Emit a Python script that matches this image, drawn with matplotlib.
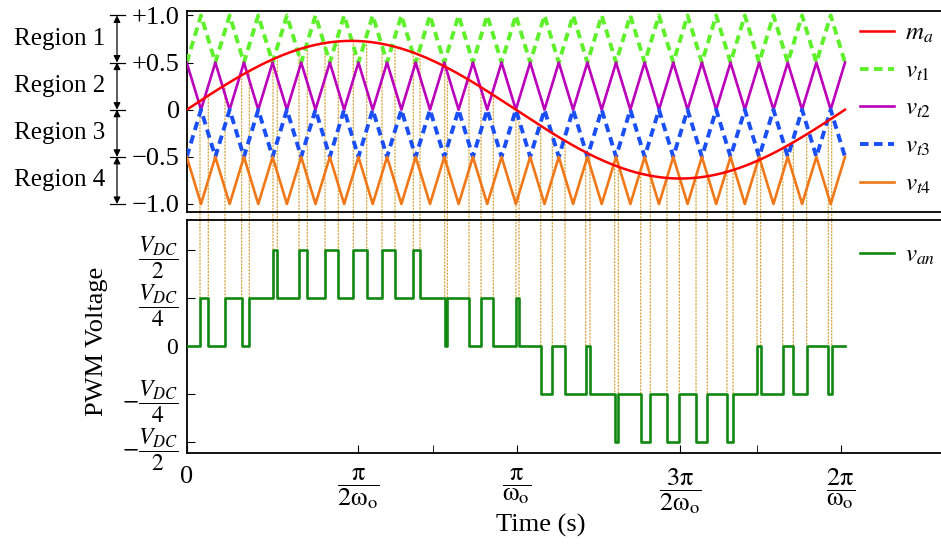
import numpy as np
import matplotlib
matplotlib.use('Agg')
import matplotlib.pyplot as plt
from matplotlib.patches import ConnectionPatch
from matplotlib.transforms import blended_transform_factory

plt.rcParams['font.family'] = ['Liberation Serif', 'DejaVu Serif']
plt.rcParams['mathtext.fontset'] = 'stix'

# values (time given as fraction of one fundamental period)
ma = 0.73                      # modulation amplitude
carrier_cycles = 23            # carrier periods per fundamental period
band_edges = [1.0, 0.5, 0.0, -0.5, -1.0]
band_ticklabels = ['+1.0', '+0.5', '0', '\u22120.5', '\u22121.0']
region_names = ['Region 1', 'Region 2', 'Region 3', 'Region 4']

# PWM output: switching instants and the level (in V_DC/4) after each switch
pwm_start_level = 0
pwm_switch_t = [0.0202, 0.0328, 0.0582, 0.0835, 0.0951,
                0.1311, 0.1376, 0.1706, 0.1832, 0.2101, 0.2303, 0.2531, 0.2734,
                0.2967, 0.3164, 0.3442, 0.3544,
                0.3919, 0.3959, 0.4288, 0.4471, 0.4657, 0.5002, 0.5048,
                0.5378, 0.5554, 0.5747, 0.6061, 0.6126,
                0.6502, 0.6556, 0.6897, 0.7042, 0.7296, 0.7483, 0.7737, 0.7908,
                0.8207, 0.8299,
                0.8663, 0.8719, 0.9054, 0.9215, 0.9418, 0.9746, 0.9798]
pwm_levels = [1, 0, 1, 0, 1,
              2, 1, 2, 1, 2, 1, 2, 1,
              2, 1, 2, 1,
              0, 1, 0, 1, 0, 1, 0,
              -1, 0, -1, 0, -1,
              -2, -1, -2, -1, -2, -1, -2, -1,
              -2, -1,
              0, -1, 0, -1, 0, -1, 0]

pwm_ticks = [2, 1, 0, -1, -2]
pwm_ticklabels = [r'$\dfrac{V_{DC}}{2}$', r'$\dfrac{V_{DC}}{4}$', '0',
                  r'$-\dfrac{V_{DC}}{4}$', r'$-\dfrac{V_{DC}}{2}$']
x_ticks_t = [0, 0.26, 0.502, 0.749, 0.994]
x_minor_t = [0.374, 0.866]
x_ticklabels = ['0',
                r'$\dfrac{\mathrm{\pi}}{2\mathrm{\omega}_\mathrm{o}}$',
                r'$\dfrac{\mathrm{\pi}}{\mathrm{\omega}_\mathrm{o}}$',
                r'$\dfrac{3\mathrm{\pi}}{2\mathrm{\omega}_\mathrm{o}}$',
                r'$\dfrac{2\mathrm{\pi}}{\mathrm{\omega}_\mathrm{o}}$']

carrier_names = [r'$v_{t1}$', r'$v_{t2}$', r'$v_{t3}$', r'$v_{t4}$']
carrier_colors = ['#5ef02a', '#bb00bb', '#1a4ff5', '#f07818']
carrier_styles = ['--', '-', '--', '-']
carrier_widths = [2.8, 1.9, 2.8, 1.9]

two_pi = 2 * np.pi

# modulating wave and APOD carriers (neighbouring bands mirrored)
th = np.linspace(0, two_pi, 20001)
m = ma * np.sin(th)
u = (th / (two_pi / carrier_cycles)) % 1.0
c = np.abs(1 - 2 * u)
carriers = [1 - 0.5 * c, 0.5 * c, -0.5 * c, -1 + 0.5 * c]

sw = np.array(pwm_switch_t) * two_pi
pwm_x = np.concatenate([[0], sw, [two_pi]])
pwm_y = np.concatenate([[pwm_start_level], pwm_levels, [pwm_levels[-1]]])

fig = plt.figure(figsize=(9.41, 5.49), dpi=100)
ax1 = fig.add_axes([186.7 / 941, 1 - 212 / 549, 1 - 186.7 / 941, (212 - 10.7) / 549])
ax2 = fig.add_axes([186.7 / 941, 1 - 453.3 / 549, 1 - 186.7 / 941, (453.3 - 220) / 549])
xmax = two_pi * (941 - 186.7) / (845 - 186.7)

for ax in (ax1, ax2):
    ax.patch.set_alpha(0)
    ax.set_xlim(0, xmax)
    ax.spines['right'].set_visible(False)
    for s in ax.spines.values():
        s.set_linewidth(1.3)

ax1.plot(th, m, color='#ff0000', lw=1.8, label=r'$m_a$', zorder=4)
for v, nm, col, ls, lw in zip(carriers, carrier_names, carrier_colors, carrier_styles, carrier_widths):
    ax1.plot(th, v, color=col, ls=ls, lw=lw, label=nm, zorder=3,
             dashes=(2.2, 1.4) if ls == '--' else (None, None))
ax1.set_ylim(-1.085, 1.05)
ax1.set_yticks(band_edges)
ax1.set_yticklabels(band_ticklabels, fontsize=19)
ax1.set_xticks([])
ax1.tick_params(axis='y', direction='in', length=4, pad=5)
ax1.legend(loc='upper left', bbox_to_anchor=(860 / 941, 1 - 22 / 549), bbox_transform=fig.transFigure,
           frameon=False, fontsize=18, handlelength=1.35, handletextpad=0.45,
           labelspacing=0.6, borderpad=0, borderaxespad=0)

ax2.step(pwm_x, pwm_y, where='post', color='#118811', lw=1.9, label=r'$v_{an}$', zorder=3)
ax2.set_ylim(-2.24, 2.62)
ax2.set_yticks(pwm_ticks)
ax2.set_yticklabels(pwm_ticklabels, fontsize=17)
ax2.set_xticks(np.array(x_ticks_t) * two_pi)
ax2.set_xticks(np.array(x_minor_t) * two_pi, minor=True)
ax2.set_xticklabels(x_ticklabels, fontsize=19)
ax2.tick_params(axis='y', direction='in', length=6, pad=6)
ax2.tick_params(axis='x', which='both', direction='in', length=6, pad=9)
ax2.set_ylabel('PWM Voltage', fontsize=19)
ax2.yaxis.set_label_coords(-0.104, 0.48)
ax2.set_xlabel('Time (s)', fontsize=19)
ax2.xaxis.set_label_coords(0.47, -0.26)
ax2.legend(loc='upper left', bbox_to_anchor=(860 / 941, 1 - 244 / 549), bbox_transform=fig.transFigure,
           frameon=False, fontsize=18, handlelength=1.35, handletextpad=0.45,
           borderpad=0, borderaxespad=0)

# dotted lines at every switching instant, from the modulating wave down to the output
prev = [pwm_start_level] + pwm_levels[:-1]
for x, a, b in zip(sw, prev, pwm_levels):
    con = ConnectionPatch(xyA=(x, ma * np.sin(x)), coordsA=ax1.transData,
                          xyB=(x, max(a, b)), coordsB=ax2.transData,
                          color='#d4a23a', lw=0.9, ls=':', zorder=-1)
    fig.add_artist(con)

# region arrows and labels
tr = blended_transform_factory(fig.transFigure, ax1.transData)
xa = 117 / 941
for y in band_edges:
    ax1.plot([110 / 941, 125 / 941], [y, y], transform=tr, color='black', lw=0.9, clip_on=False)
for k, name in enumerate(region_names):
    y0, y1 = band_edges[k], band_edges[k + 1]
    ax1.annotate('', xy=(xa, y1), xytext=(xa, y0), xycoords=tr, textcoords=tr,
                 arrowprops=dict(arrowstyle='<|-|>', color='black', lw=0.9,
                                 mutation_scale=10, shrinkA=0, shrinkB=0),
                 annotation_clip=False)
    ax1.text(105 / 941, (y0 + y1) / 2, name, transform=tr, ha='right', va='center',
             fontsize=18)

fig.savefig('out.png', dpi=100)
